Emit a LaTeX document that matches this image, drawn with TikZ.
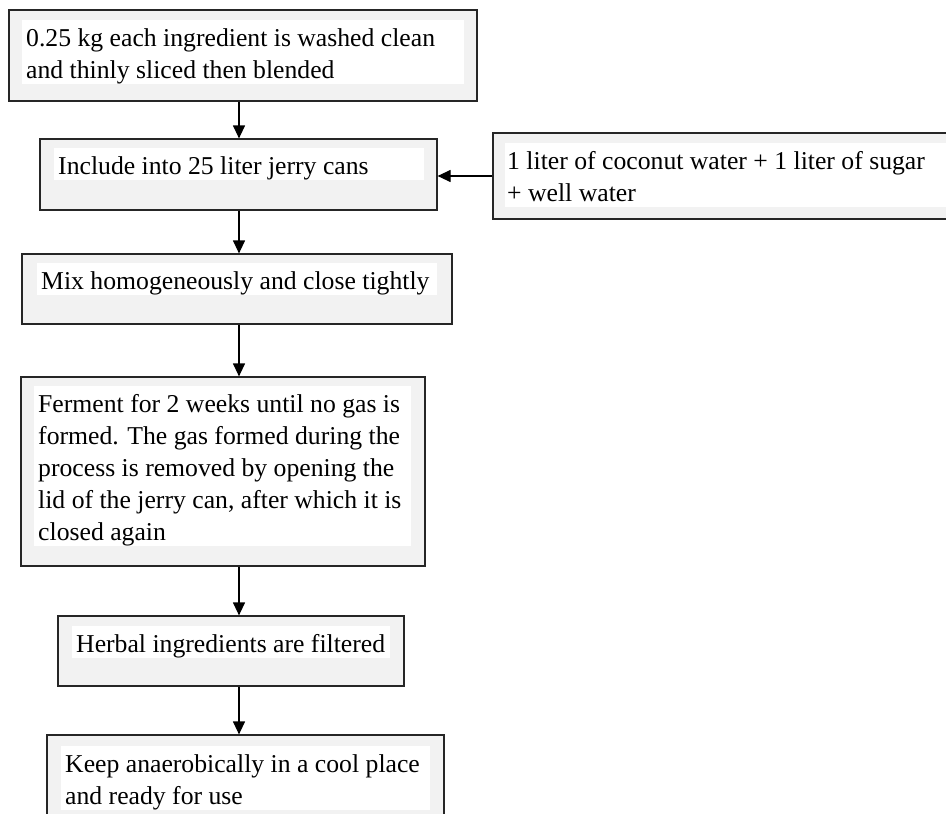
\documentclass[tikz,border=0pt]{standalone}
\usepackage{fontspec}
\setmainfont{Liberation Serif}
\usetikzlibrary{arrows.meta}
\newcommand{\stepfont}{\fontsize{25.7}{32}\selectfont}
\newcommand{\stepstrut}{\rule[-6pt]{0pt}{32pt}}
\tikzset{
	stepbox/.style={draw=black!85,fill=black!5,line width=1.2pt,inner sep=0pt},
	steptext/.style={fill=white,inner xsep=4pt,inner ysep=0pt,align=flush left,anchor=north west,font=\stepfont},
	flow/.style={-{Triangle[length=13pt,width=12pt]},line width=1.2pt},
}

\begin{document}
\begin{tikzpicture}[x=1pt,y=-1pt]
	\useasboundingbox (0,0) rectangle (946,814);
	\clip (0,0) rectangle (946,814);
	\coordinate (axis) at (239,0);
	% boxes
	\node (wash) at (243,55.5) [stepbox,minimum width=468pt,minimum height=91pt] {};
	\node (cans) at (238.5,174.5) [stepbox,minimum width=397pt,minimum height=71pt] {};
	\node (mix) at (237,289) [stepbox,minimum width=430pt,minimum height=70pt] {};
	\node (ferment) at (223,471.5) [stepbox,minimum width=404pt,minimum height=189pt] {};
	\node (filter) at (231,651) [stepbox,minimum width=346pt,minimum height=70pt] {};
	\node (keep) at (245.5,780.5) [stepbox,minimum width=397pt,minimum height=91pt] {};
	\node (water) at (726.5,176) [stepbox,minimum width=467pt,minimum height=86pt] {};
	% texts
	\node (washtext) at (22,20) [steptext,text width=434pt]
	{\stepstrut\mbox{0.25 kg each ingredient is washed clean}\\ \mbox{and thinly sliced then blended}\stepstrut};
	\node (canstext) at (54,148) [steptext,text width=362pt]
	{\stepstrut\mbox{Include into 25 liter jerry cans}\stepstrut};
	\node (mixtext) at (37,263) [steptext,text width=392pt]
	{\stepstrut\mbox{Mix homogeneously and close tightly}\stepstrut};
	\node (fermenttext) at (34,386) [steptext,text width=369pt]
	{\stepstrut\mbox{Ferment for 2 weeks until no gas is}\\ \mbox{formed. The gas formed during the}\\ \mbox{process is removed by opening the}\\ \mbox{lid of the jerry can, after which it is}\\ \mbox{closed again}\stepstrut};
	\node (filtertext) at (72,626) [steptext,text width=310pt]
	{\stepstrut\mbox{Herbal ingredients are filtered}\stepstrut};
	\node (keeptext) at (61,746) [steptext,text width=361pt]
	{\stepstrut\mbox{Keep anaerobically in a cool place}\\ \mbox{and ready for use}\stepstrut};
	\node (watertext) at (505,143) [steptext,text width=450pt,inner xsep=2pt]
	{\stepstrut\mbox{1 liter of coconut water + 1 liter of sugar}\\ \mbox{+ well water}\stepstrut};
	% arrows
	\draw [flow] (wash.south -| axis) -- (cans.north -| axis);
	\draw [flow] (cans.south -| axis) -- (mix.north -| axis);
	\draw [flow] (mix.south -| axis) -- (ferment.north -| axis);
	\draw [flow] (ferment.south -| axis) -- (filter.north -| axis);
	\draw [flow] (filter.south -| axis) -- (keep.north -| axis);
	\draw [flow] (water.west) -- (water.west -| cans.east);
\end{tikzpicture}
\end{document}
